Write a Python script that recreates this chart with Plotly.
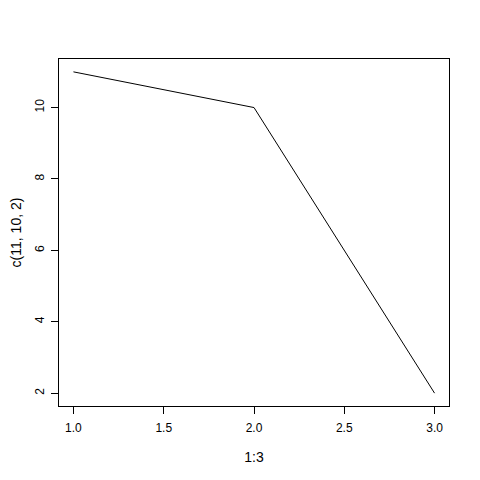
import plotly.graph_objects as go

x_vals = [1, 2, 3]
y_vals = [11, 10, 2]
x_ticks = [1.0, 1.5, 2.0, 2.5, 3.0]
x_labels = ["1.0", "1.5", "2.0", "2.5", "3.0"]
y_ticks = [2, 4, 6, 8, 10]

# R style: range padded 4% each side
xpad = (max(x_vals) - min(x_vals)) * 0.04
ypad = (max(y_vals) - min(y_vals)) * 0.04

fig = go.Figure()
fig.add_scatter(x=x_vals, y=y_vals, mode="lines", line=dict(color="black", width=1), showlegend=False)

# page body has an 8px margin, so shift everything up/left by 8
fig.update_layout(
    width=480, height=480,
    margin=dict(l=51, r=39, t=51, b=82),
    paper_bgcolor="white", plot_bgcolor="white",
    font=dict(family="Liberation Sans, Arial, sans-serif", size=12, color="black"),
)
fig.update_xaxes(
    range=[min(x_vals) - xpad, max(x_vals) + xpad],
    tickvals=x_ticks, ticktext=x_labels,
    ticks="outside", ticklen=7, tickwidth=1, tickcolor="black",
    ticklabelstandoff=4,
    showline=True, mirror=True, linecolor="black", linewidth=1,
    showgrid=False, zeroline=False, automargin=False,
    title=dict(text="1:3", standoff=17),
)
fig.update_yaxes(
    range=[min(y_vals) - ypad, max(y_vals) + ypad],
    tickvals=y_ticks, tickangle=-90,
    ticks="outside", ticklen=7, tickwidth=1, tickcolor="black",
    ticklabelstandoff=2,
    showline=True, mirror=True, linecolor="black", linewidth=1,
    showgrid=False, zeroline=False, automargin=False,
    title=dict(text="c(11, 10, 2)", standoff=19),
)

fig.write_html("out.html")
